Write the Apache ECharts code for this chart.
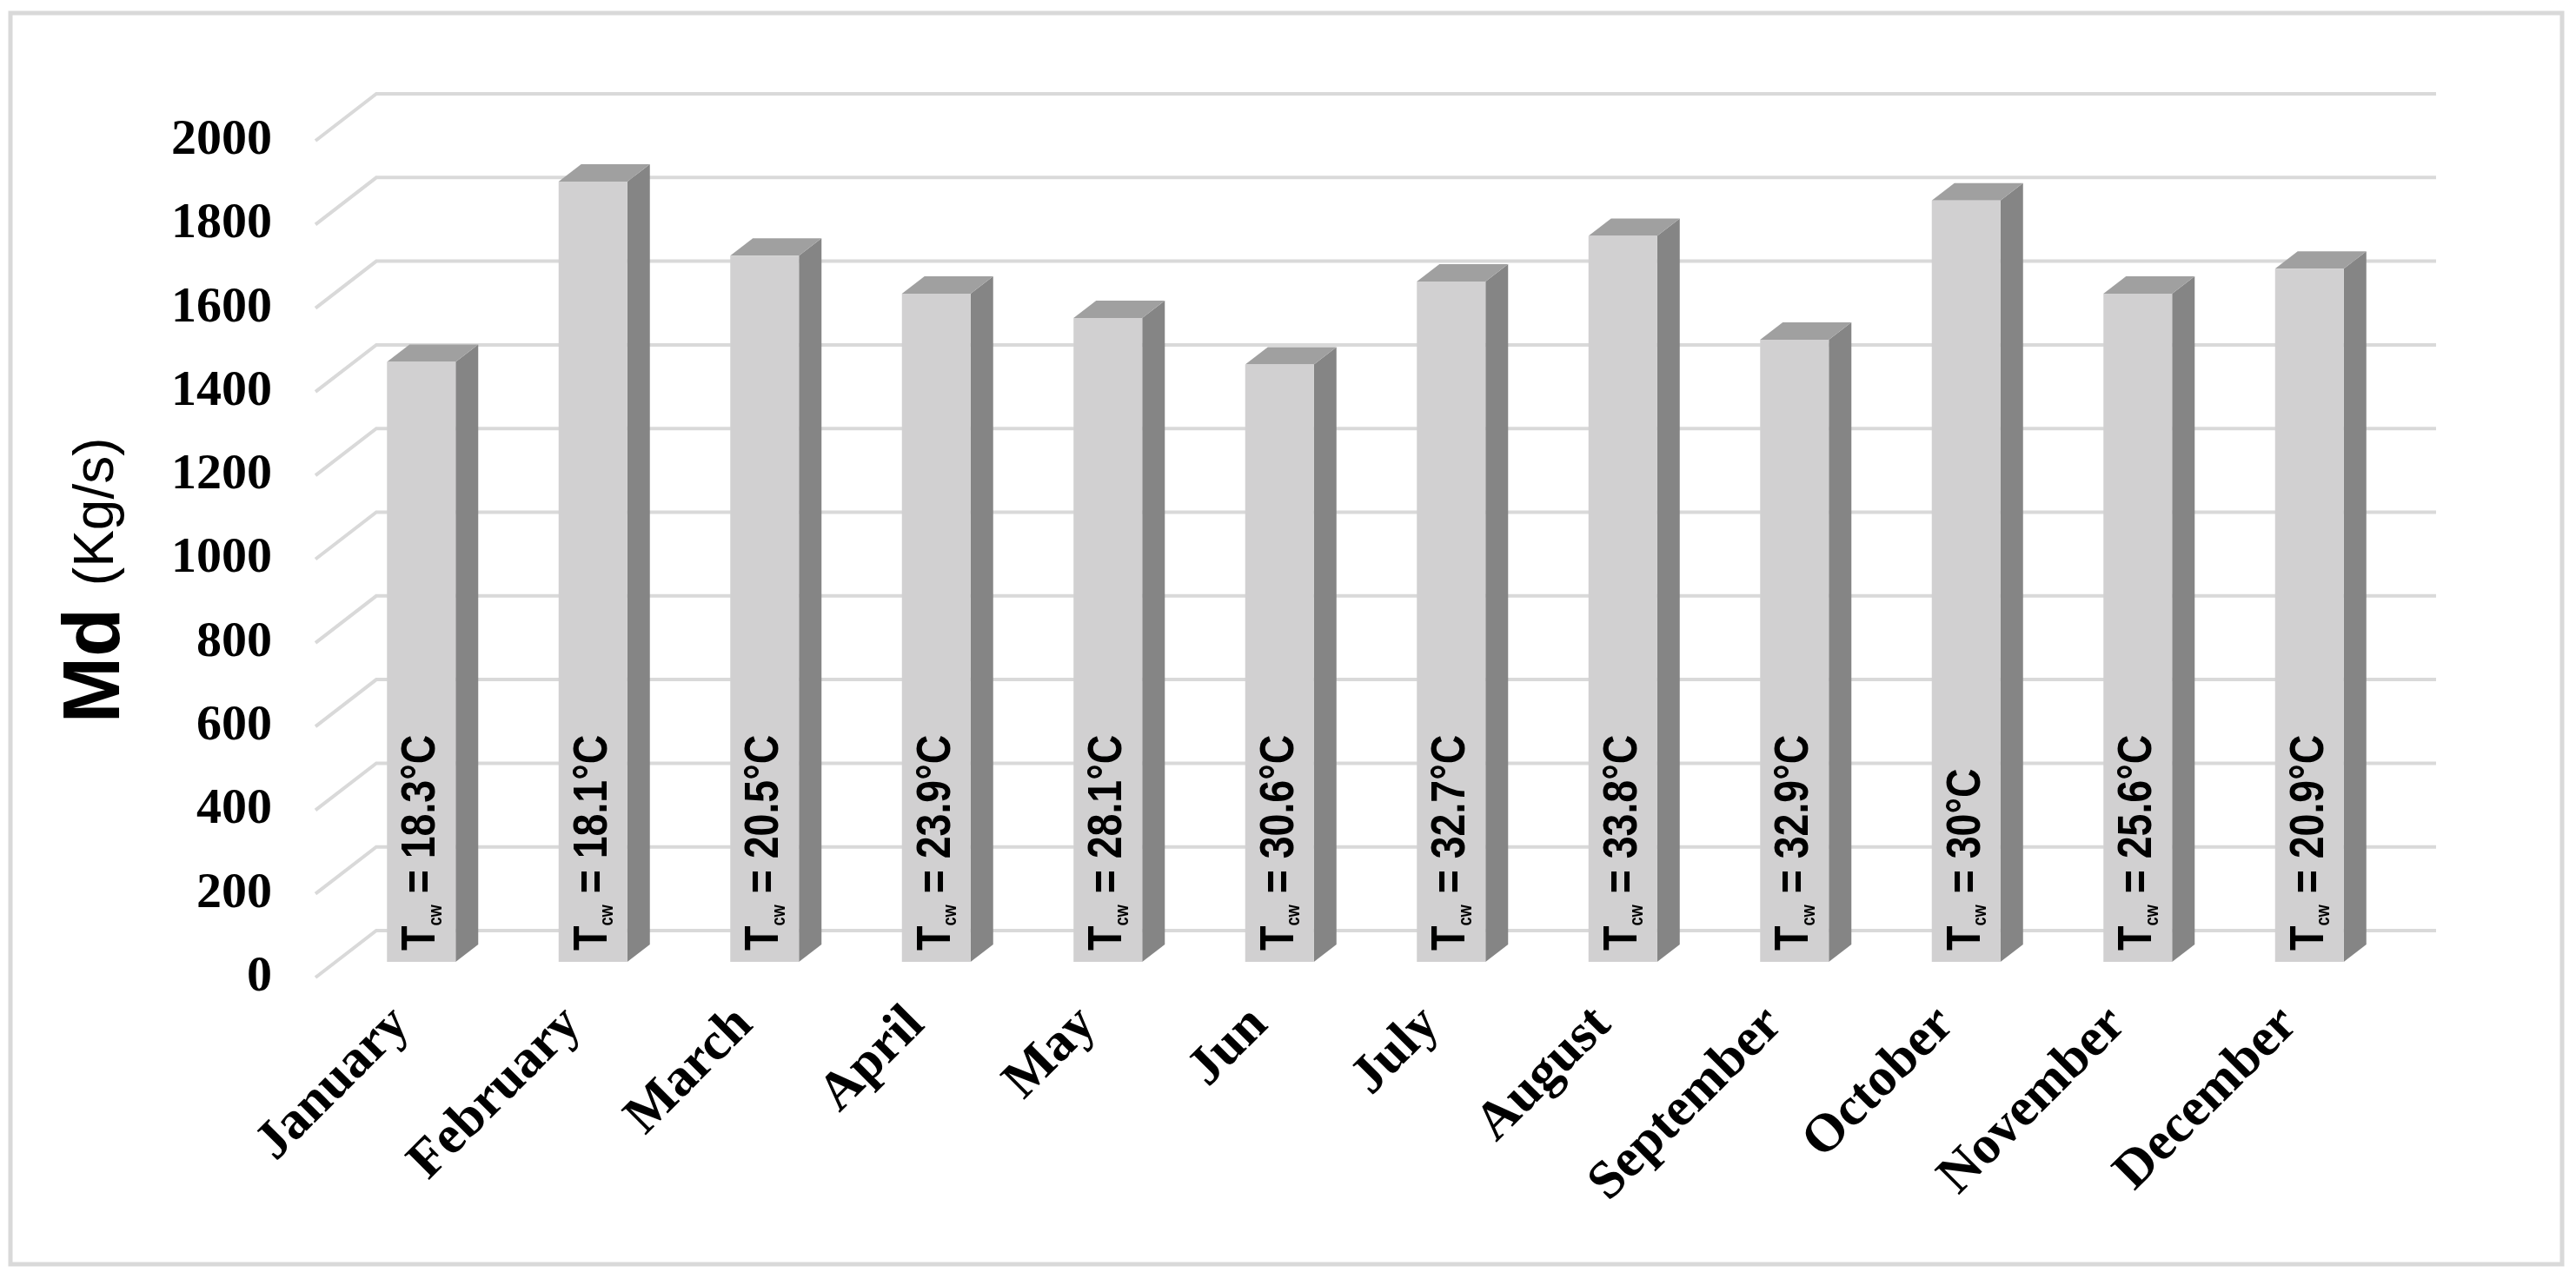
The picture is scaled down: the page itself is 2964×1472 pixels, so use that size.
<!DOCTYPE html>
<html>
<head>
<meta charset="utf-8">
<title>Md per month</title>
<script src="https://cdn.jsdelivr.net/npm/echarts@6/dist/echarts.min.js"></script>
<style>
  html, body { margin: 0; padding: 0; background: #fff; }
  #main { width: 2964px; height: 1472px; }
</style>
</head>
<body>
<div id="main"></div>
<script>
// months on the x axis
const months = ['January', 'February', 'March', 'April', 'May', 'Jun',
  'July', 'August', 'September', 'October', 'November', 'December'];
// Md (Kg/s)
const mdValues = [1434, 1865, 1688, 1597, 1539, 1428, 1626, 1735, 1487, 1820, 1597, 1657];
// cooling water temperature written in each bar
const tcwValues = [18.3, 18.1, 20.5, 23.9, 28.1, 30.6, 32.7, 33.8, 32.9, 30, 25.6, 20.9];
// y ticks
const yTicks = [0, 200, 400, 600, 800, 1000, 1200, 1400, 1600, 1800, 2000];

// fake 3d look (pixels)
const WALL_DX = 70, WALL_DY = 54;   // depth of the back wall
const BAR_OX = 23, BAR_OY = 18;     // bar front face sits a bit behind the front plane
const BAR_DX = 26, BAR_DY = 20;     // bar depth

const serif = "'Liberation Serif', 'Times New Roman', serif";
const sans = "'Liberation Sans', Arial, sans-serif";

const chart = echarts.init(document.getElementById('main'));

/*back wall + floor lines*/
function renderGrid(params, api) {
  const cs = params.coordSys;
  const y = api.coord([0, api.value(1)])[1];
  return {
    type: 'polyline',
    silent: true,
    shape: {
      points: [[cs.x, y], [cs.x + WALL_DX, y - WALL_DY], [cs.x + cs.width + WALL_DX, y - WALL_DY]]
    },
    style: { stroke: '#d9d9d9', lineWidth: 4, fill: null }
  };
}

/*3d bar with the Tcw text*/
function renderBar(params, api) {
  const idx = api.value(0);
  const top = api.coord([idx, api.value(1)]);
  const base = api.coord([idx, 0]);
  const band = api.size([1, 0])[0];
  const w = band * 0.4;
  const xl = top[0] - w / 2 + BAR_OX, xr = xl + w;
  const yt = top[1] - BAR_OY, yb = base[1] - BAR_OY;
  const t = tcwValues[params.dataIndex];
  return {
    type: 'group',
    children: [
      {
        type: 'polygon',
        shape: { points: [[xr, yt], [xr + BAR_DX, yt - BAR_DY], [xr + BAR_DX, yb - BAR_DY], [xr, yb]] },
        style: { fill: '#858585' }
      },
      {
        type: 'polygon',
        shape: { points: [[xl, yt], [xl + BAR_DX, yt - BAR_DY], [xr + BAR_DX, yt - BAR_DY], [xr, yt]] },
        style: { fill: '#a0a0a0' }
      },
      {
        type: 'rect',
        shape: { x: xl, y: yt, width: w, height: yb - yt },
        style: { fill: '#d1d0d1' }
      },
      {
        // narrowed a bit along the text so it looks like the condensed original font
        type: 'text',
        x: xl + w / 2,
        y: yb - 13,
        rotation: Math.PI / 2,
        scaleX: 0.83,
        style: {
          text: '{t|T}{s|cw}{t| = ' + t + '°C}',
          align: 'left',
          verticalAlign: 'middle',
          fill: '#000',
          rich: {
            t: { fontSize: 56, fontWeight: 'bold', fontFamily: sans, fill: '#000' },
            s: { fontSize: 22, fontWeight: 'bold', fontFamily: sans, fill: '#000', verticalAlign: 'bottom' }
          }
        }
      }
    ]
  };
}

const option = {
  animation: false,
  backgroundColor: '#fff',
  grid: { left: 363, right: 231, top: 162, bottom: 347 },
  xAxis: {
    type: 'category',
    data: months,
    axisLine: { show: false },
    axisTick: { show: false },
    axisLabel: {
      interval: 0,
      rotate: 45,
      margin: 45,
      color: '#000',
      fontFamily: serif,
      fontWeight: 'bold',
      fontSize: 62
    }
  },
  yAxis: {
    type: 'value',
    min: 0,
    max: 2000,
    interval: 200,
    axisLine: { show: false },
    axisTick: { show: false },
    splitLine: { show: false },
    axisLabel: {
      margin: 50,
      color: '#000',
      fontFamily: serif,
      fontWeight: 'bold',
      fontSize: 58,
      formatter: function (v) { return String(v); }
    }
  },
  graphic: [
    {
      type: 'rect',
      silent: true,
      shape: { x: 12, y: 15, width: 2936, height: 1440 },
      style: { fill: null, stroke: '#d9d9d9', lineWidth: 5 }
    },
    {
      type: 'text',
      x: 112,
      y: 668,
      rotation: Math.PI / 2,
      style: {
        text: '{md|Md }{kg|(Kg/s)}',
        align: 'center',
        verticalAlign: 'middle',
        rich: {
          md: { fontSize: 92, fontWeight: 'bold', fontFamily: sans, fill: '#000' },
          kg: { fontSize: 64, fontFamily: sans, fill: '#000' }
        }
      }
    }
  ],
  series: [
    {
      type: 'custom',
      renderItem: renderGrid,
      data: yTicks.map(v => [0, v]),
      encode: { x: 0, y: 1 },
      silent: true,
      z: 1
    },
    {
      type: 'custom',
      renderItem: renderBar,
      data: mdValues.map((v, i) => [i, v]),
      encode: { x: 0, y: 1 },
      z: 2
    }
  ]
};

chart.setOption(option);
</script>
</body>
</html>
